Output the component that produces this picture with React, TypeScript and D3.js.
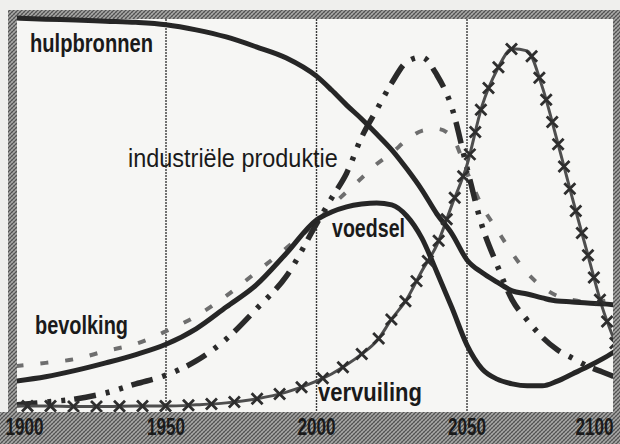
import { useEffect, useRef } from 'react'
import * as d3 from 'd3'

// years (every 10 yrs up to 2000, then every 5)
const years = [
  1900, 1910, 1920, 1930, 1940, 1950, 1960, 1970, 1980, 1990, 2000, 2005, 2010, 2015, 2020,
  2025, 2030, 2035, 2040, 2045, 2050, 2055, 2060, 2065, 2070, 2075, 2080, 2085, 2090, 2095, 2100,
]

// relative level, 0 = bottom of plot, 100 = top
const hulpbronnen = [
  99.0, 98.7, 98.5, 98.2, 97.9, 97.3, 96.0, 94.2, 91.7, 88.9, 84.3, 80.8, 77.0, 73.5, 69.7,
  65.7, 60.9, 55.6, 49.5, 44.5, 37.9, 34.7, 32.3, 30.1, 29.3, 28.3, 27.5, 27.3, 27.0, 26.8, 26.5,
]
const bevolking = [
  11.1, 11.9, 12.9, 14.9, 16.7, 19.9, 23.7, 28.8, 34.8, 40.9, 47.5, 51.5, 55.1, 58.6, 62.1,
  64.9, 68.2, 70.5, 71.0, 69.0, 60.1, 51.5, 45.5, 39.6, 34.6, 31.1, 28.8, 27.8, 27.3, 27.5, 28.3,
]
const industrie = [
  1.3, 2.0, 2.8, 4.3, 6.6, 8.8, 12.4, 17.9, 25.5, 33.8, 47.0, 53.5, 59.8, 68.9, 75.8,
  82.6, 87.9, 89.1, 84.6, 76.3, 61.1, 46.5, 36.6, 27.8, 22.7, 18.4, 15.2, 13.1, 11.1, 9.6, 8.1,
]
const vervuiling = [
  1.0, 1.0, 0.9, 0.9, 1.0, 1.0, 1.3, 1.8, 2.8, 4.5, 7.3, 9.1, 11.4, 14.1, 17.4,
  23.0, 28.0, 35.1, 41.7, 51.8, 61.9, 76.8, 85.9, 91.2, 90.7, 81.6, 67.9, 53.5, 39.6, 25.8, 15.7,
]
const voedsel = [
  7.3, 8.4, 10.0, 11.9, 14.0, 16.6, 20.5, 26.0, 31.6, 39.6, 48.0, 50.0, 51.3, 52.0, 52.3,
  51.8, 49.0, 43.4, 34.8, 25.8, 16.4, 10.4, 7.8, 6.6, 6.1, 6.1, 7.3, 9.1, 10.9, 12.9, 15.2,
]

const gridYears = [1950, 2000, 2050]
const tickYears = [1900, 1950, 2000, 2050, 2100]

const W = 620
const H = 444
const FONT = "'Liberation Sans Narrow', 'Liberation Sans', Arial, sans-serif"

const App = () => {
  const svgRef = useRef<SVGSVGElement | null>(null)

  useEffect(() => {
    if (!svgRef.current) return
    const svg = d3.select(svgRef.current)
    svg.selectAll('*').remove()

    const x = d3.scaleLinear().domain([1900, 2100]).range([15.5, 617.5])
    const y = d3.scaleLinear().domain([0, 100]).range([410, 14])

    const plot = { left: 17, right: 613, top: 19, bottom: 412 }

    const defs = svg.append('defs')
    const pat = defs
      .append('pattern')
      .attr('id', 'raster')
      .attr('width', 4)
      .attr('height', 4)
      .attr('patternUnits', 'userSpaceOnUse')
    pat.append('rect').attr('width', 4).attr('height', 4).attr('fill', '#a9a9a7')
    pat.append('path').attr('d', 'M0,4L4,0').attr('stroke', '#505050').attr('stroke-width', 1.2)
    pat.append('path').attr('d', 'M0,0L4,4').attr('stroke', '#767676').attr('stroke-width', 0.9)

    defs
      .append('clipPath')
      .attr('id', 'plotclip')
      .append('rect')
      .attr('x', plot.left)
      .attr('y', 10)
      .attr('width', plot.right - plot.left)
      .attr('height', plot.bottom - 10)

    svg.append('rect').attr('width', W).attr('height', H).attr('fill', '#efefed')
    svg
      .append('rect')
      .attr('x', plot.left)
      .attr('y', plot.top)
      .attr('width', plot.right - plot.left)
      .attr('height', plot.bottom - plot.top)
      .attr('fill', '#f6f6f4')

    // halftone border bands
    const bands = [
      [8, 10, W - 8, 9],
      [8, 10, 9, H - 10],
      [plot.right, 10, W - plot.right, H - 10],
      [0, plot.bottom, W, H - plot.bottom],
    ]
    bands.forEach(([bx, by, bw, bh]) => {
      svg
        .append('rect')
        .attr('x', bx)
        .attr('y', by)
        .attr('width', bw)
        .attr('height', bh)
        .attr('fill', 'url(#raster)')
    })

    // vertical grid
    svg
      .append('g')
      .selectAll('line')
      .data(gridYears)
      .join('line')
      .attr('x1', (d) => x(d))
      .attr('x2', (d) => x(d))
      .attr('y1', plot.top)
      .attr('y2', plot.bottom)
      .attr('stroke', '#3a3a3a')
      .attr('stroke-width', 1.4)
      .attr('stroke-dasharray', '2 1')

    const line = d3
      .line<number>()
      .x((_, i) => x(years[i]))
      .y((d) => y(d))
      .curve(d3.curveMonotoneX)

    const g = svg.append('g').attr('clip-path', 'url(#plotclip)')

    g.append('path')
      .datum(bevolking)
      .attr('d', line)
      .attr('fill', 'none')
      .attr('stroke', '#6e6e6e')
      .attr('stroke-width', 4)
      .attr('stroke-dasharray', '8 17')

    g.append('path')
      .datum(industrie)
      .attr('d', line)
      .attr('fill', 'none')
      .attr('stroke', '#2a2a2a')
      .attr('stroke-width', 5.5)
      .attr('stroke-dasharray', '22 10 4 10 4 9')

    const pollPath = g
      .append('path')
      .datum(vervuiling)
      .attr('d', line)
      .attr('fill', 'none')
      .attr('stroke', '#4e4e4e')
      .attr('stroke-width', 3)

    ;[hulpbronnen, voedsel].forEach((serie) => {
      g.append('path')
        .datum(serie)
        .attr('d', line)
        .attr('fill', 'none')
        .attr('stroke', '#262626')
        .attr('stroke-width', 5)
    })

    // x markers along pollution curve
    const node = pollPath.node() as SVGPathElement
    const total = node.getTotalLength()
    const marks: { px: number; py: number }[] = []
    for (let l = 12; l < total; l += 23) {
      const p = node.getPointAtLength(l)
      marks.push({ px: p.x, py: p.y })
    }
    g.append('g')
      .selectAll('path')
      .data(marks)
      .join('path')
      .attr('d', (d) => {
        const s = 5.5
        return `M${d.px - s},${d.py - s}L${d.px + s},${d.py + s}M${d.px - s},${d.py + s}L${d.px + s},${d.py - s}`
      })
      .attr('stroke', '#2e2e2e')
      .attr('stroke-width', 2.8)

    // condensed text: squeeze each label horizontally to the width seen in the scan
    const squeezed = (
      parent: d3.Selection<SVGGElement, unknown, null, undefined>,
      text: string,
      left: number,
      base: number,
      width: number,
      size: number,
      weight: number
    ) => {
      const t = parent
        .append('text')
        .attr('font-family', FONT)
        .attr('font-size', size)
        .attr('font-weight', weight)
        .attr('fill', '#1a1a1a')
        .text(text)
      const natural = (t.node() as SVGTextElement).getComputedTextLength() || width
      t.attr('transform', `translate(${left},${base}) scale(${width / natural},1)`)
    }

    const labelLayer = svg.append('g') as unknown as d3.Selection<SVGGElement, unknown, null, undefined>
    const labels = [
      { text: 'hulpbronnen', x: 30, y: 52, w: 123, weight: 700 },
      { text: 'industriële produktie', x: 128, y: 167, w: 210, weight: 500 },
      { text: 'voedsel', x: 332, y: 237, w: 73, weight: 700 },
      { text: 'bevolking', x: 35, y: 334, w: 93, weight: 700 },
      { text: 'vervuiling', x: 318, y: 401, w: 104, weight: 700 },
    ]
    labels.forEach((d) => squeezed(labelLayer, d.text, d.x, d.y, d.w, 26, d.weight))

    // year ticks in the bottom band
    const tickW = 38
    tickYears.forEach((d) => {
      const left = d === 1900 ? x(d) - 10 : d === 2100 ? x(d) - tickW - 4 : x(d) - tickW / 2
      squeezed(labelLayer, String(d), left, 435, tickW, 24, 700)
    })
  }, [])

  return (
    <div style={{ position: 'absolute', left: 0, top: 0 }}>
      <svg ref={svgRef} width={W} height={H} style={{ display: 'block' }} />
    </div>
  )
}

export default App
